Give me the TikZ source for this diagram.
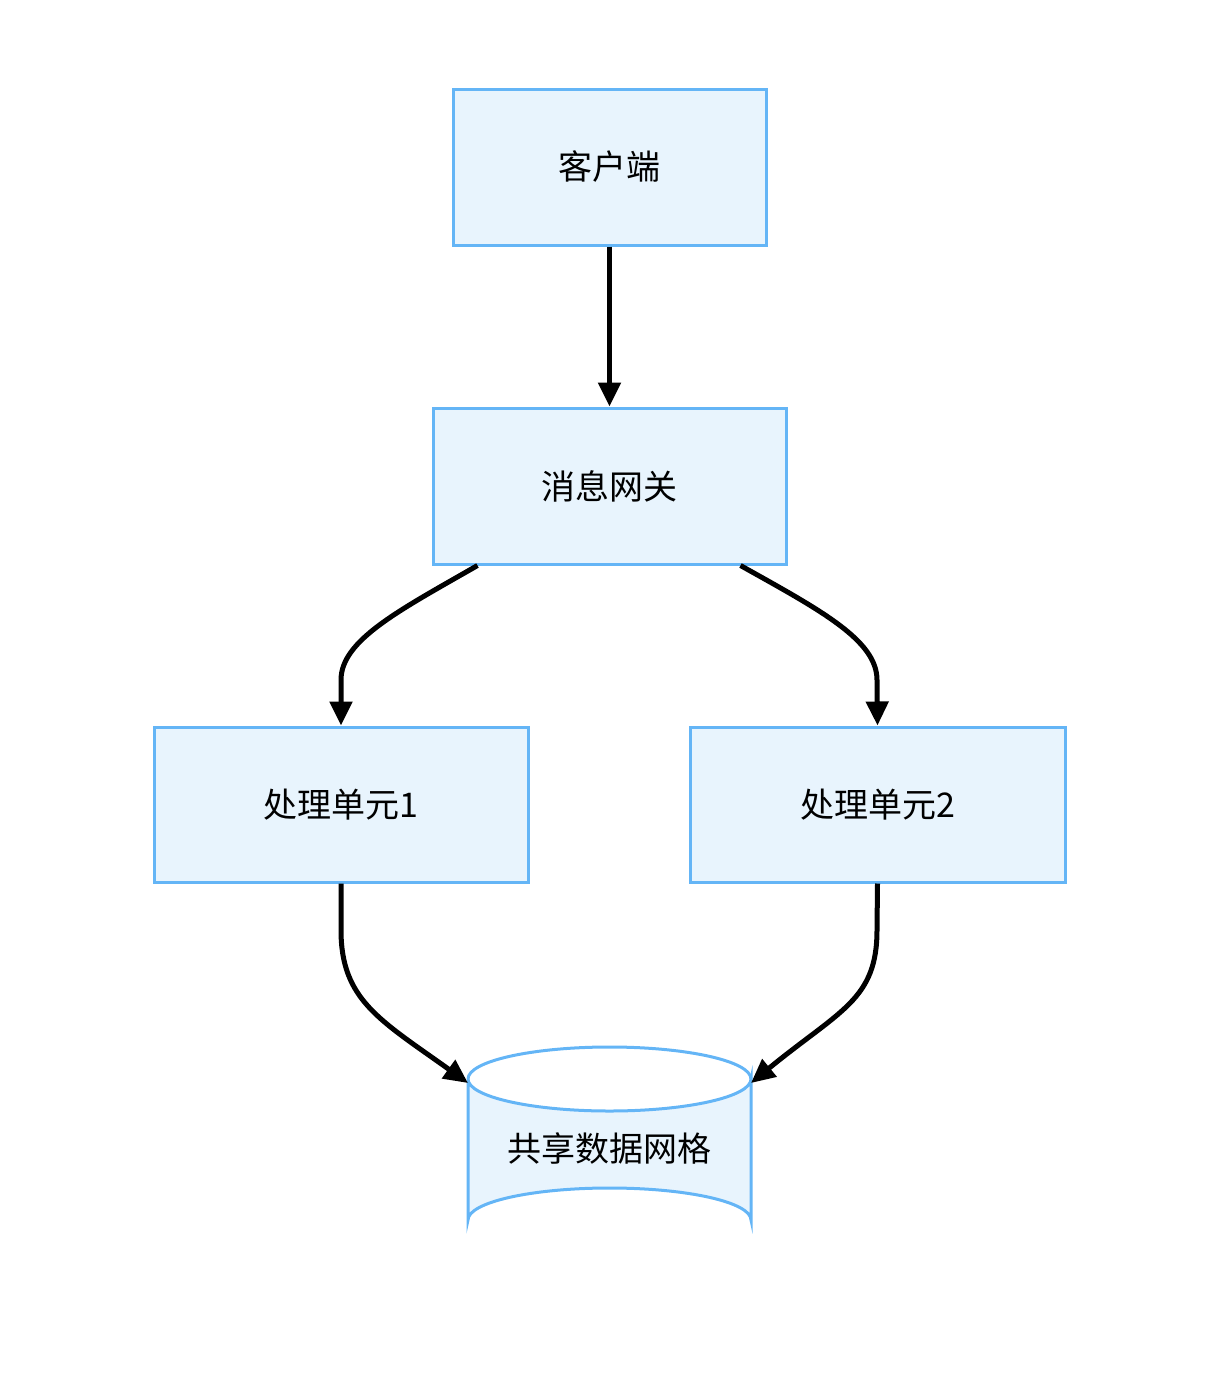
\documentclass[tikz,border=0pt]{standalone}
\usepackage{fontspec}
\setmainfont{Noto Sans CJK SC}
\usetikzlibrary{arrows.meta}
\definecolor{bfill}{HTML}{E8F4FD}
\definecolor{bline}{HTML}{64B5F6}
\begin{document}
\begin{tikzpicture}[x=0.5pt,y=-0.5pt,
  box/.style={draw=bline,fill=bfill,line width=1.5pt,font=\fontsize{17}{20}\selectfont,inner sep=0pt},
  arr/.style={line width=2.5pt,-{Triangle[length=12pt,width=11pt]},rounded corners=0pt}]
\useasboundingbox (0,0) rectangle (1216,1392);
\node[box,minimum width=156.5pt,minimum height=78pt] (c) at (609.5,167) {客户端};
\node[box,minimum width=176.5pt,minimum height=78pt] (g) at (609.5,486) {消息网关};
\node[box,minimum width=187pt,minimum height=77.5pt] (u1) at (341,804.5) {处理单元1};
\node[box,minimum width=187.5pt,minimum height=77.5pt] (u2) at (877.5,804.5) {处理单元2};
% cylinder
\draw[draw=bline,fill=bfill,line width=1.5pt] (468,1079) -- (468,1220) arc[start angle=180,end angle=360,x radius=141.5,y radius=32] -- (751,1079) arc[start angle=0,end angle=180,x radius=141.5,y radius=32];
\draw[draw=bline,line width=1.5pt] (468,1079) arc[start angle=180,end angle=360,x radius=141.5,y radius=32];
\node[font=\fontsize{17}{20}\selectfont] (db) at (609.5,1148) {共享数据网格};
\coordinate (dbl) at (468,1083);
\coordinate (dbr) at (751,1083);
\draw[arr] (c.south) -- (g.north);
\draw[arr] ([xshift=-66pt]g.south) .. controls (400,610) and (341,640) .. (341,680) -- (u1.north);
\draw[arr] ([xshift=65.5pt]g.south) .. controls (820,610) and (877,640) .. (877,680) -- (u2.north);
\draw[arr] (u1.south) -- (341,930) .. controls (341,1000) and (380,1020) .. (dbl);
\draw[arr] (u2.south) -- (877,930) .. controls (877,1000) and (840,1010) .. (dbr);
\end{tikzpicture}
\end{document}
